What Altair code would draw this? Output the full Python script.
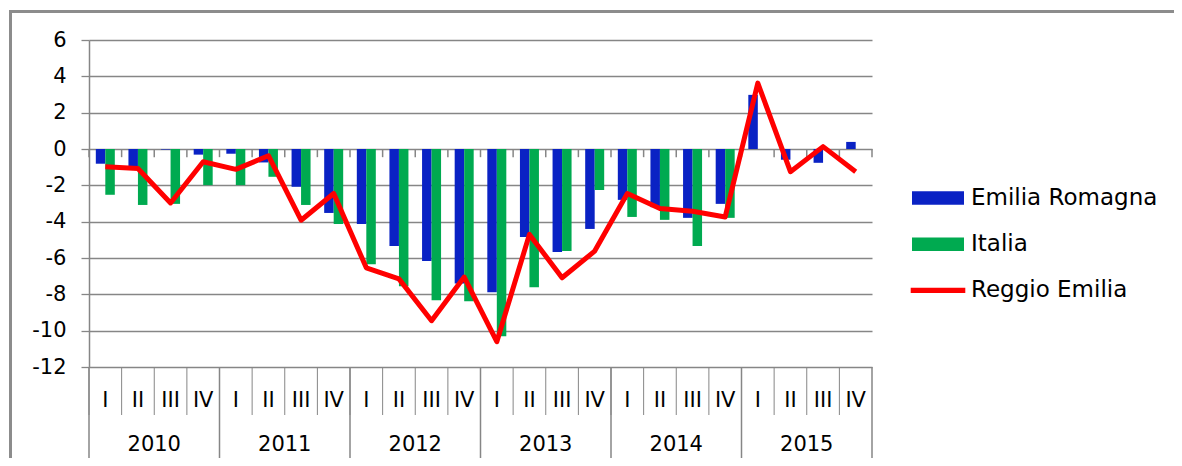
import altair as alt
import pandas as pd

years = ["2010", "2011", "2012", "2013", "2014", "2015"]
quarters = ["I", "II", "III", "IV"]
series_names = ["Emilia Romagna", "Italia", "Reggio Emilia"]

emilia = [-0.81, -1.01, -0.03, -0.31,
          -0.26, -0.74, -2.08, -3.52,
          -4.13, -5.34, -6.17, -7.40,
          -7.88, -4.84, -5.67, -4.40,
          -2.80, -3.20, -3.79, -3.02,
          2.98, -0.59, -0.76, 0.39]
italia = [-2.52, -3.08, -3.02, -1.99,
          -1.99, -1.53, -3.08, -4.13,
          -6.35, -7.55, -8.32, -8.38,
          -10.31, -7.61, -5.62, -2.25,
          -3.74, -3.90, -5.34, -3.79,
          None, None, None, None]
reggio = [-0.98, -1.07, -2.97, -0.70,
          -1.12, -0.37, -3.92, -2.45,
          -6.54, -7.15, -9.45, -7.05,
          -10.61, -4.70, -7.09, -5.62,
          -2.45, -3.28, -3.43, -3.74,
          3.63, -1.25, 0.13, -1.25]
y_ticks = [-12, -10, -8, -6, -4, -2, 0, 2, 4, 6]

BLUE = "#0A22C4"
GREEN = "#00AA50"
RED = "#FF0000"
GRID = "#868686"
FONT = "DejaVu Sans"

keys = [f"{y}-{q}" for y in years for q in quarters]
qlabels = [q for y in years for q in quarters]

rows = []
for k, e, i in zip(keys, emilia, italia):
    rows.append({"key": k, "series": "Emilia Romagna", "value": e})
    if i is not None:
        rows.append({"key": k, "series": "Italia", "value": i})
bars_df = pd.DataFrame(rows)
line_df = pd.DataFrame({"key": keys, "value": reggio})
q_df = pd.DataFrame({"key": keys, "label": qlabels})
ystart_df = pd.DataFrame({"key": [f"{y}-I" for y in years]})
ylabel_df = pd.DataFrame({"key": [f"{y}-II" for y in years], "year": years})
end_df = pd.DataFrame({"key": [keys[-1]]})
legend_df = pd.DataFrame({"series": series_names})
dummy = pd.DataFrame({"d": [0]})

x_scale = alt.Scale(type="band", domain=keys, paddingInner=0, paddingOuter=0)
y_scale = alt.Scale(domain=[-12, 6], nice=False, zero=False)
y_axis = alt.Axis(values=y_ticks, title=None, labelExpr="datum.value + ''",
                  labelFont=FONT, labelFontSize=21, labelColor="black",
                  labelPadding=15, tickSize=8, tickColor=GRID, tickWidth=1.3,
                  domainColor=GRID, domainWidth=1.5, grid=True, gridColor=GRID,
                  gridWidth=1.3, gridOpacity=1)


def X(field="key:N", bp=None):
    if bp is None:
        return alt.X(field, scale=x_scale, axis=None)
    return alt.X(field, scale=x_scale, axis=None, bandPosition=bp)


zero_ticks = alt.Chart(q_df).mark_rule(color=GRID, strokeWidth=1.5).encode(
    x=X(bp=0), y=alt.YDatum(0, scale=y_scale, axis=y_axis), y2=alt.Y2Datum(-0.45))
zero_tick_end = alt.Chart(end_df).mark_rule(color=GRID, strokeWidth=1.5).encode(
    x=X(bp=1), y=alt.YDatum(0, scale=y_scale, axis=y_axis), y2=alt.Y2Datum(-0.45))

bars = alt.Chart(bars_df).mark_bar().encode(
    x=X(),
    xOffset=alt.XOffset("series:N", scale=alt.Scale(domain=["Emilia Romagna", "Italia"],
                                                    paddingInner=0, paddingOuter=0.717)),
    y=alt.Y("value:Q", scale=y_scale, axis=y_axis),
    fill=alt.Fill("series:N", scale=alt.Scale(domain=["Emilia Romagna", "Italia"],
                                              range=[BLUE, GREEN]), legend=None),
)

line = alt.Chart(line_df).mark_line(color=RED, strokeWidth=5, strokeJoin="round").encode(
    x=X(), y=alt.Y("value:Q", scale=y_scale, axis=y_axis))

q_sep = alt.Chart(q_df).mark_rule(color=GRID, strokeWidth=1).encode(
    x=X(bp=0), y=alt.value(327), y2=alt.value(375))
y_sep = alt.Chart(ystart_df).mark_rule(color=GRID, strokeWidth=1.5).encode(
    x=X(bp=0), y=alt.value(327), y2=alt.value(418))
end_sep = alt.Chart(end_df).mark_rule(color=GRID, strokeWidth=1.5).encode(
    x=X(bp=1), y=alt.value(327), y2=alt.value(418))

q_text = alt.Chart(q_df).mark_text(font=FONT, fontSize=21, color="black",
                                   baseline="middle").encode(
    x=X(bp=0.5), y=alt.value(361), text="label:N")
y_text = alt.Chart(ylabel_df).mark_text(font=FONT, fontSize=21, color="black",
                                        baseline="middle").encode(
    x=X(bp=1), y=alt.value(404.5), text="year:N")

rect_path = "M-2,-0.52H2V0.52H-2Z"
line_path = "M-2.1,-0.2H2.1V0.2H-2.1Z"
legend = alt.Legend(title=None, orient="none", legendX=836, legendY=145, padding=0,
                    rowPadding=21.2, labelOffset=20, symbolSize=676,
                    symbolStrokeWidth=0, labelFont=FONT, labelFontSize=23,
                    labelColor="black", labelLimit=400)
legend_layer = alt.Chart(legend_df).transform_filter("false").mark_point(
    filled=True, opacity=1).encode(
    color=alt.Color("series:N", scale=alt.Scale(domain=series_names,
                                                range=[BLUE, GREEN, RED]), legend=legend),
    shape=alt.Shape("series:N", scale=alt.Scale(domain=series_names,
                                                range=[rect_path, rect_path, line_path]),
                    legend=legend),
)

frame_top = alt.Chart(dummy).mark_rule(color="#8c8c8c", strokeWidth=3).encode(
    x=alt.value(-78.5), x2=alt.value(1085), y=alt.value(-28.5))
frame_left = alt.Chart(dummy).mark_rule(color="#8c8c8c", strokeWidth=3).encode(
    x=alt.value(-78.5), y=alt.value(-30), y2=alt.value(418))

chart = alt.layer(
    zero_ticks, zero_tick_end, bars, line, q_sep, y_sep, end_sep, q_text, y_text,
    legend_layer, frame_top, frame_left
).properties(
    width=783, height=327,
    padding={"left": 81, "top": 32, "right": 302, "bottom": 91},
    autosize=alt.AutoSizeParams(type="none"),
    background="white",
).configure_view(stroke=None)

chart.save("out.html", embed_options={"renderer": "svg", "actions": False})
